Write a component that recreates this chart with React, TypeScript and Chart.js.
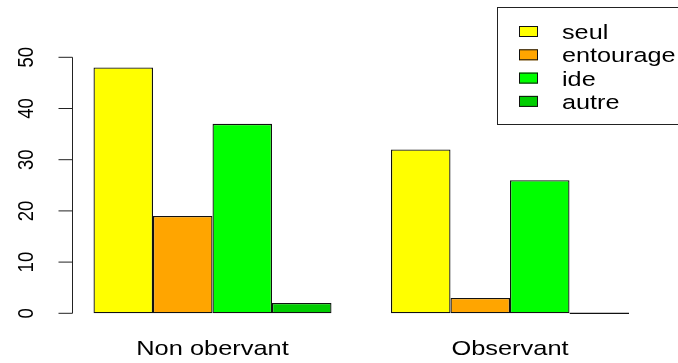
import React, { useEffect, useRef } from "react";
import { Chart, registerables } from "chart.js";

Chart.register(...registerables);

const categories = ["Non obervant", "Observant"];
const seriesNames = ["seul", "entourage", "ide", "autre"];
const seul = [48, 32];
const entourage = [19, 3];
const ide = [37, 26];
const autre = [2, 0];
const seriesColors = ["#FFFF00", "#FFA500", "#00FF00", "#00CD00"];
const yTicks = [0, 10, 20, 30, 40, 50];

const FONT = '"Liberation Sans", Arial, Helvetica, sans-serif';

function stretchedText(
  ctx: CanvasRenderingContext2D,
  text: string,
  x: number,
  y: number,
  size: number,
  sx: number,
  align: CanvasTextAlign,
  rotate = false
) {
  ctx.save();
  ctx.translate(x, y);
  ctx.scale(sx, 1);
  if (rotate) ctx.rotate(-Math.PI / 2);
  ctx.font = `${size}px ${FONT}`;
  ctx.textAlign = align;
  ctx.textBaseline = "alphabetic";
  ctx.fillStyle = "#000";
  ctx.fillText(text, 0, 0);
  ctx.restore();
}

const rBasePlugin = {
  id: "rBase",
  afterDraw(chart: any) {
    const ctx: CanvasRenderingContext2D = chart.ctx;
    const ys = chart.scales.y;
    const xs = chart.scales.x;
    const area = chart.chartArea;
    ctx.save();
    // y axis
    const axisX = Math.round(area.left + 7.75) + 0.5;
    ctx.strokeStyle = "#222";
    ctx.lineWidth = 1;
    ctx.beginPath();
    ctx.moveTo(axisX, ys.getPixelForValue(yTicks[0]));
    ctx.lineTo(axisX, ys.getPixelForValue(yTicks[yTicks.length - 1]));
    yTicks.forEach((t) => {
      const py = ys.getPixelForValue(t);
      ctx.moveTo(axisX, py);
      ctx.lineTo(axisX - 14, py);
    });
    ctx.stroke();
    yTicks.forEach((t) => {
      const py = ys.getPixelForValue(t);
      stretchedText(ctx, String(t), 33.3, py, 18.5, 1.17, "center", true);
    });
    // category labels
    categories.forEach((c, i) => {
      const px = xs.getPixelForValue(i);
      stretchedText(ctx, c, px, 355, 21, 1.21, "center");
    });
    // legend
    ctx.strokeStyle = "#222";
    ctx.strokeRect(497.5, 7.5, 240, 117);
    const rowStart = 39;
    const rowStep = 23.3;
    chart.data.datasets.forEach((ds: any, i: number) => {
      const base = rowStart + i * rowStep;
      ctx.fillStyle = ds.backgroundColor;
      ctx.fillRect(519, base - 13, 19, 11);
      ctx.strokeStyle = "#111";
      ctx.strokeRect(519.5, base - 12.5, 18, 10);
      stretchedText(ctx, ds.label, 562, base, 20.5, 1.23, "left");
    });
    ctx.restore();
  },
};

export default function App() {
  const ref = useRef<HTMLCanvasElement | null>(null);
  useEffect(() => {
    if (!ref.current) return;
    const seriesData = [seul, entourage, ide, autre];
    const chart = new Chart(ref.current, {
      type: "bar",
      data: {
        labels: categories,
        datasets: seriesNames.map((name, i) => ({
          label: name,
          data: seriesData[i],
          backgroundColor: seriesColors[i],
          borderColor: "#111",
          borderWidth: 1.3,
          borderSkipped: false,
          minBarLength: 1.5,
          barPercentage: 1,
          categoryPercentage: 0.8,
          inflateAmount: 0,
        })),
      },
      options: {
        responsive: false,
        animation: false,
        layout: { padding: { left: 63.75, right: 19.25, top: 47.06, bottom: 39.46 } },
        scales: {
          x: { display: false },
          y: { display: false, min: -2, max: 52 },
        },
        plugins: { legend: { display: false }, tooltip: { enabled: false } },
      },
      plugins: [rBasePlugin],
    } as any);
    return () => chart.destroy();
  }, []);
  return (
    <div style={{ position: "absolute", left: 0, top: 0, width: 678, height: 363, background: "#fff" }}>
      <canvas ref={ref} width={678} height={363} />
    </div>
  );
}
